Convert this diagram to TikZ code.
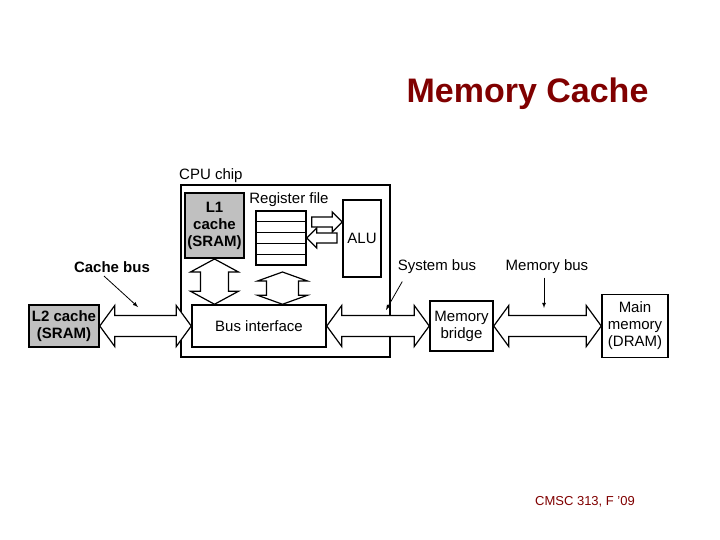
\documentclass[tikz,border=0pt]{standalone}
\usepackage{fontspec}
\setmainfont{Liberation Sans}
\usetikzlibrary{positioning,calc}
\definecolor{titlered}{RGB}{128,0,0}
\definecolor{boxgray}{RGB}{192,192,192}
% wide horizontal double arrow: start, end, half shaft, half head, head length
\newcommand{\hbus}[5]{%
	\draw[fat] let \p1=#1, \p2=#2 in (\x1,\y1) -- (\x1+#5pt,\y1+#4pt) -- (\x1+#5pt,\y1+#3pt) -- (\x2-#5pt,\y2+#3pt) -- (\x2-#5pt,\y2+#4pt) -- (\x2,\y2)
		-- (\x2-#5pt,\y2-#4pt) -- (\x2-#5pt,\y2-#3pt) -- (\x1+#5pt,\y1-#3pt) -- (\x1+#5pt,\y1-#4pt) -- cycle;}
% wide vertical double arrow: top, bottom, half shaft, half head, head length
\newcommand{\vbus}[5]{%
	\draw[fat] let \p1=#1, \p2=#2 in (\x1,\y1) -- (\x1+#4pt,\y1-#5pt) -- (\x1+#3pt,\y1-#5pt) -- (\x2+#3pt,\y2+#5pt) -- (\x2+#4pt,\y2+#5pt) -- (\x2,\y2)
		-- (\x2-#4pt,\y2+#5pt) -- (\x2-#3pt,\y2+#5pt) -- (\x1-#3pt,\y1-#5pt) -- (\x1-#4pt,\y1-#5pt) -- cycle;}
% wide single arrow: tail, tip, half shaft, half head, head length (horizontal)
\newcommand{\hpush}[5]{%
	\draw[fat] let \p1=#1, \p2=#2, \n1={sign(\x2-\x1)} in (\x1,\y1+#3pt) -- (\x2-\n1*#5pt,\y2+#3pt) -- (\x2-\n1*#5pt,\y2+#4pt) -- (\x2,\y2)
		-- (\x2-\n1*#5pt,\y2-#4pt) -- (\x2-\n1*#5pt,\y2-#3pt) -- (\x1,\y1-#3pt) -- cycle;}
\begin{document}
\begin{tikzpicture}[
		x=1pt,y=-1pt,
		box/.style={
			draw,
			line width=1.5pt,
			inner sep=1pt,
			align=center,
		},
		fat/.style={
			draw,
			line width=1.2pt,
			fill=white,
		},
		font=\fontsize{15}{17}\selectfont,
		>=latex
		]
		\useasboundingbox (0,0) rectangle (720,540);
		% Title and footer
		\node[text=titlered,font=\fontsize{34}{38}\selectfont\bfseries,anchor=east] (title) at (652,94) {Memory Cache};
		\node[text=titlered,font=\fontsize{13}{15}\selectfont] (footer) at (585,502) {CMSC 313, F ’09};
		% CPU chip
		\node[box,minimum width=209pt,minimum height=172pt] (chip) at (285.5,271) {};
		\node[anchor=south west,inner sep=1pt] (chiplbl) at (178,184) {CPU chip};
		\node[box,fill=boxgray,minimum width=59pt,minimum height=65pt,font=\fontsize{15}{17}\selectfont\bfseries] (l1) at (214.5,225.5) {L1\\cache\\(SRAM)};
		\node[draw,line width=1.5pt,minimum width=50pt,minimum height=54pt,inner sep=0pt] (reg) at (281,238) {};
		\foreach \i in {1,...,4}
			\draw[line width=1.2pt] ($(reg.north west)!\i/5!(reg.south west)$) -- ($(reg.north east)!\i/5!(reg.south east)$);
		\node[anchor=south] (reglbl) at (289,210) {Register file};
		\node[box,minimum width=38pt,minimum height=77pt] (alu) at (362,238.5) {ALU};
		\node[box,minimum width=134pt,minimum height=42pt] (bus) at (259,326) {Bus interface};
		% Outside boxes
		\node[box,fill=boxgray,minimum width=70pt,minimum height=42pt,font=\fontsize{15}{17}\selectfont\bfseries] (l2) at (64,326) {L2 cache\\(SRAM)};
		\node[box,minimum width=63pt,minimum height=50pt] (bridge) at (461.5,326) {Memory\\bridge};
		\node[box,minimum width=66pt,minimum height=63pt] (mem) at (635,326) {Main\\memory\\(DRAM)};
		% Wide bus arrows
		\hbus{(l2.east)}{(bus.west)}{10.5}{20.5}{15}
		\hbus{(bus.east)}{(bridge.west)}{10.5}{20.5}{15}
		\hbus{(bridge.east)}{(mem.west)}{10.5}{20.5}{15}
		\coordinate (l1top) at (l1.south |- 0,259);
		\coordinate (l1bot) at (l1.south |- bus.north);
		\vbus{(l1top)}{(l1bot)}{14}{24}{13}
		\coordinate (regtop) at (282.5,272);
		\coordinate (regbot) at (regtop |- bus.north);
		\vbus{(regtop)}{(regbot)}{16}{25}{9}
		% Register file to ALU
		\coordinate (toalu) at (reg.east |- 0,222);
		\coordinate (fromalu) at (337,238);
		\hpush{($(toalu)+(5,0)$)}{(alu.west |- toalu)}{5}{10}{10}
		\hpush{(fromalu)}{(reg.east |- fromalu)}{5}{10}{10}
		% Bus labels
		\node[font=\fontsize{15}{17}\selectfont\bfseries] (cblbl) at (112,267) {Cache bus};
		\node (sblbl) at (437,267) {System bus};
		\node (mblbl) at (547,267) {Memory bus};
		\coordinate (cbtip) at (138,307);
		\coordinate (sbtip) at (386,310);
		\coordinate (mbtip) at (544,308);
		\draw[->,thick] ($(cblbl.south)+(-8,0)$) -- (cbtip);
		\draw[->,thick] ($(sblbl.south west)+(8,4)$) -- (sbtip);
		\draw[->,thick] (mblbl.south -| mbtip) -- (mbtip);
	\end{tikzpicture}
\end{document}
